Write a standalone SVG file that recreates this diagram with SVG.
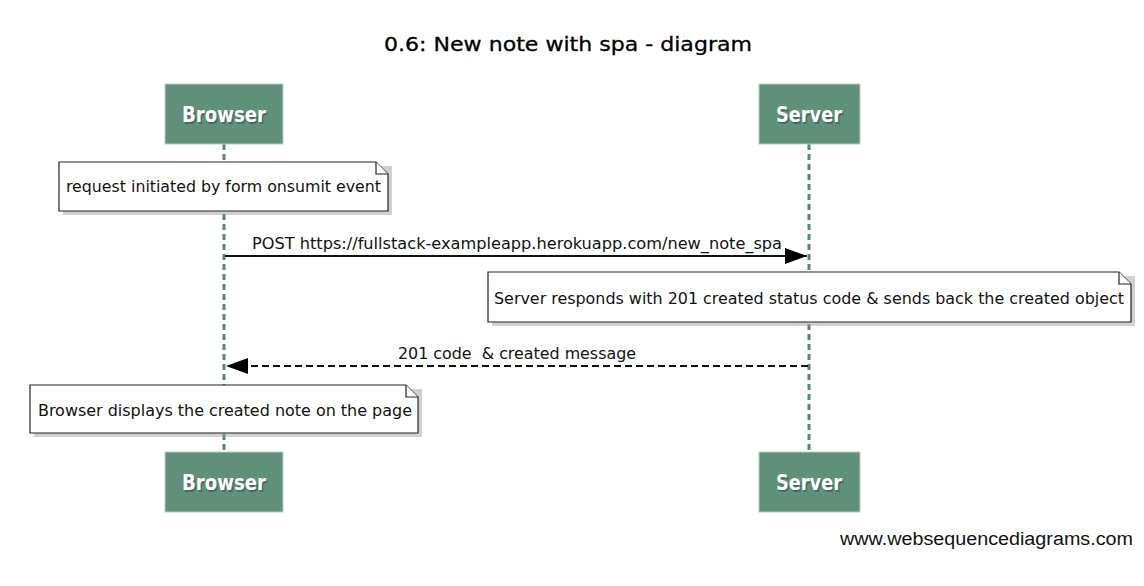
<svg xmlns="http://www.w3.org/2000/svg" width="1144" height="586" viewBox="0 0 1144 586">
<defs>
<style>
.actor{fill:#5f917a;stroke:#b9cfc3;stroke-width:1}
.actxt{font-family:"DejaVu Sans Condensed","DejaVu Sans",sans-serif;font-size:22px;font-weight:bold;fill:#fff;text-anchor:middle}
.acsh{font-family:"DejaVu Sans Condensed","DejaVu Sans",sans-serif;font-size:22px;font-weight:bold;fill:#2f4a3e;opacity:0.5;text-anchor:middle}
.life{stroke:#4f8a72;stroke-width:3;stroke-dasharray:6,4;fill:none}
.note{fill:#fff;stroke:#222;stroke-width:1.2}
.noteshadow{fill:#999;opacity:0.45}
.txt{font-family:"DejaVu Sans Condensed","DejaVu Sans",sans-serif;font-size:16px;fill:#111}
.msg{stroke:#111;stroke-width:2.2;fill:none}
</style>
<marker id="ah" markerWidth="22" markerHeight="16" refX="22" refY="8" orient="auto" markerUnits="userSpaceOnUse">
<path d="M0,0 L22,8 L0,16 Z" fill="#000"/>
</marker>
</defs>
<rect width="1144" height="586" fill="#fff"/>
<text x="568" y="51" style="font-family:'DejaVu Sans',sans-serif;font-size:19px;fill:#000;stroke:#000;stroke-width:0.3;text-anchor:middle" textLength="368" lengthAdjust="spacingAndGlyphs">0.6: New note with spa - diagram</text>

<g id="lifelines">
<line class="life" x1="224" y1="144" x2="224" y2="452"/>
<line class="life" x1="809" y1="144" x2="809" y2="452"/>
</g>

<g id="browser-top">
<rect class="actor" x="165" y="84" width="118" height="60"/>
<text class="acsh" x="225.5" y="123.5" textLength="84" lengthAdjust="spacingAndGlyphs">Browser</text>
<text class="actxt" x="224" y="122" textLength="84" lengthAdjust="spacingAndGlyphs">Browser</text>
</g>
<g id="server-top">
<rect class="actor" x="759" y="84" width="101" height="60"/>
<text class="acsh" x="810.5" y="123.5" textLength="66" lengthAdjust="spacingAndGlyphs">Server</text>
<text class="actxt" x="809" y="122" textLength="66" lengthAdjust="spacingAndGlyphs">Server</text>
</g>
<g id="browser-bottom">
<rect class="actor" x="165" y="452" width="118" height="60"/>
<text class="acsh" x="225.5" y="491.5" textLength="84" lengthAdjust="spacingAndGlyphs">Browser</text>
<text class="actxt" x="224" y="490" textLength="84" lengthAdjust="spacingAndGlyphs">Browser</text>
</g>
<g id="server-bottom">
<rect class="actor" x="759" y="452" width="101" height="60"/>
<text class="acsh" x="810.5" y="491.5" textLength="66" lengthAdjust="spacingAndGlyphs">Server</text>
<text class="actxt" x="809" y="490" textLength="66" lengthAdjust="spacingAndGlyphs">Server</text>
</g>

<g id="note1">
<path class="noteshadow" d="M63,166 H392 V215 H63 Z"/>
<path class="note" d="M59,162 H376 L388,174 V211 H59 Z"/>
<path class="note" d="M376,162 V174 H388" fill="none"/>
<text class="txt" x="66" y="192" textLength="315" lengthAdjust="spacingAndGlyphs">request initiated by form onsumit event</text>
</g>

<g id="note2">
<path class="noteshadow" d="M492,276 H1135 V326 H492 Z"/>
<path class="note" d="M488,272 H1119 L1131,284 V322 H488 Z"/>
<path class="note" d="M1119,272 V284 H1131" fill="none"/>
<text class="txt" x="494" y="304" textLength="630" lengthAdjust="spacingAndGlyphs">Server responds with 201 created status code &amp; sends back the created object</text>
</g>

<g id="note3">
<path class="noteshadow" d="M34,389 H422 V437 H34 Z"/>
<path class="note" d="M30,385 H406 L418,397 V433 H30 Z"/>
<path class="note" d="M406,385 V397 H418" fill="none"/>
<text class="txt" x="38" y="416" textLength="374" lengthAdjust="spacingAndGlyphs">Browser displays the created note on the page</text>
</g>

<g id="connectors">
<line class="msg" x1="225" y1="256" x2="807" y2="256" marker-end="url(#ah)"/>
<text class="txt" x="252" y="249" textLength="530" lengthAdjust="spacingAndGlyphs">POST https://fullstack-exampleapp.herokuapp.com/new_note_spa</text>
<line class="msg" x1="808" y1="366" x2="226" y2="366" stroke-dasharray="7,4" marker-end="url(#ah)"/>
<text class="txt" x="398" y="359" textLength="238" lengthAdjust="spacingAndGlyphs" xml:space="preserve">201 code  &amp; created message</text>
</g>

<text x="840" y="545" style="font-family:'Liberation Sans',Arial,sans-serif;font-size:18px;fill:#111" textLength="293" lengthAdjust="spacingAndGlyphs">www.websequencediagrams.com</text>
</svg>
